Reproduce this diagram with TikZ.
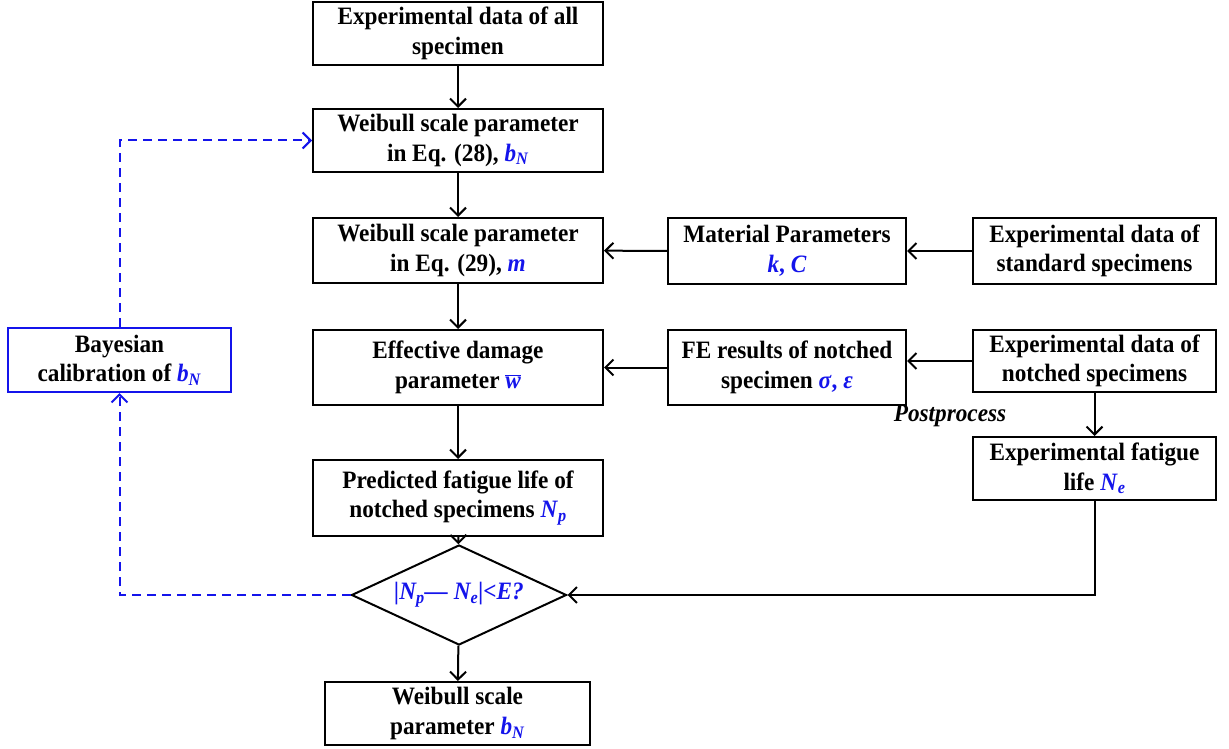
\documentclass[tikz,border=0pt]{standalone}
\usepackage{fontspec}
\setmainfont[FakeStretch=0.93]{Liberation Serif}
\usetikzlibrary{arrows.meta,shapes.geometric}
\definecolor{pblue}{RGB}{20,20,235}
\newcommand\bl[1]{\textcolor{pblue}{\textit{#1}}}
\newcommand\bls[2]{\textcolor{pblue}{\textit{#1}\textsubscript{\textit{#2}}}}
\begin{document}
\begin{tikzpicture}[x=1pt,y=-1pt,
  box/.style={draw, line width=2pt, align=center, inner sep=0pt,
    font=\fontsize{25}{29.5}\selectfont\bfseries},
  arr/.style={line width=2pt, -{Straight Barb[length=8pt,width=16pt,line width=2pt]}},
  darr/.style={arr, pblue, dash pattern=on 9pt off 6pt}]
\useasboundingbox (0,0) rectangle (1229,749);

\node[box, minimum width=290pt, minimum height=63pt] (n1) at (458,33.5) {Experimental data of all\\specimen};
\node[box, minimum width=290pt, minimum height=63pt] (n2) at (458,140.5) {Weibull scale parameter\\in Eq. (28), \bls{b}{N}};
\node[box, minimum width=290pt, minimum height=65pt] (n3) at (458,250.5) {Weibull scale parameter\\in Eq. (29), \bl{m}};
\node[box, minimum width=290pt, minimum height=75pt] (n4) at (458,367.5) {Effective damage\\parameter \textcolor{pblue}{$\overline{\mbox{\textit{w}}}$}};
\node[box, minimum width=290pt, minimum height=76pt] (n5) at (458,498) {Predicted fatigue life of\\notched specimens \bls{N}{p}};
\node[box, shape=diamond, aspect=2.15, minimum width=215pt, minimum height=100pt] (dia) at (459,595) {\textcolor{pblue}{\textit{|N\textsubscript{p}— N\textsubscript{e}|<E?}}};
\node[box, minimum width=265pt, minimum height=63pt] (n6) at (457.5,713.5) {Weibull scale\\parameter \bls{b}{N}};

\node[box, minimum width=238pt, minimum height=66pt] (mat) at (787,251) {Material Parameters\\\bl{k}\textcolor{pblue}{, }\bl{C}};
\node[box, minimum width=243pt, minimum height=66pt] (std) at (1094.5,251) {Experimental data of\\standard specimens};
\node[box, minimum width=238pt, minimum height=75pt] (fe) at (787,367.5) {FE results of notched\\specimen \bl{σ}\textcolor{pblue}{, }\bl{ε}};
\node[box, minimum width=243pt, minimum height=62pt] (notch) at (1094.5,361) {Experimental data of\\notched specimens};
\node[box, minimum width=243pt, minimum height=63pt] (life) at (1094.5,468.5) {Experimental fatigue\\life \bls{N}{e}};
\node[box, draw=pblue, minimum width=223pt, minimum height=64pt] (bay) at (119.5,360) {Bayesian\\calibration of \bls{b}{N}};

\node[font=\fontsize{25}{29.5}\selectfont\bfseries\itshape, inner sep=0pt] (post) at (950,416) {Postprocess};

\draw[arr] (n1) -- (n2);
\draw[arr] (n2) -- (n3);
\draw[arr] (n3) -- (n4);
\draw[arr] (n4) -- (n5);
\draw[arr] (n5) -- (dia);
\draw[arr] (dia) -- (n6);
\draw[arr] (std) -- (mat);
\draw[arr] (mat) -- (n3);
\draw[arr] (notch.west) -- (notch.west -| fe.east);
\draw[arr] (fe) -- (n4);
\draw[arr] (notch) -- (life);
\coordinate (c1) at (life.south |- dia.east);
\draw[arr] (life.south) -- (c1) -- (dia.east);
\coordinate (c2) at (bay.south |- dia.west);
\draw[darr] (dia.west) -- (c2) -- (bay.south);
\coordinate (c3) at (bay.north |- n2.west);
\draw[darr] (bay.north) -- (c3) -- (n2.west);
\end{tikzpicture}
\end{document}
